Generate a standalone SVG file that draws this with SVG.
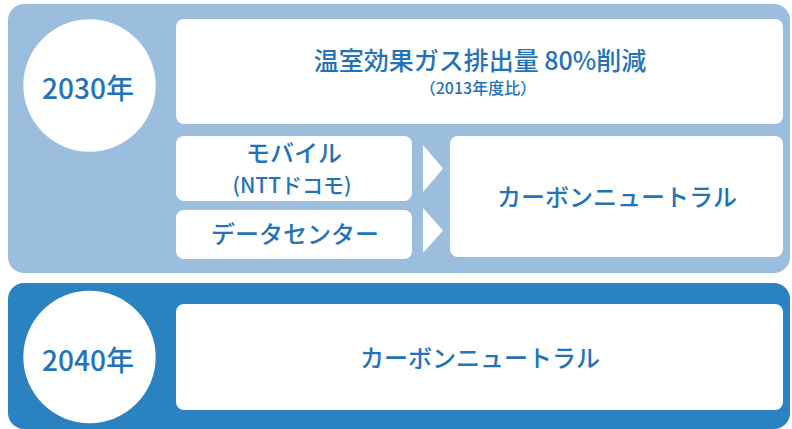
<svg xmlns="http://www.w3.org/2000/svg" width="792" height="429" viewBox="0 0 792 429">
<style>
.t{font-family:"Noto Sans CJK JP","Noto Sans",sans-serif;fill:#2473B6;font-weight:500;text-anchor:middle}
.box{fill:#ffffff}
</style>
<rect x="0" y="0" width="792" height="429" fill="#ffffff"/>
<g id="panel2030">
<rect x="8" y="4" width="782" height="269" rx="16" fill="#9BBEDF"/>
</g>
<g id="panel2040">
<rect x="8" y="283" width="782" height="146" rx="16" fill="#2A82C0"/>
</g>
<g id="year2030">
<circle cx="89.5" cy="85.5" r="66.2" class="box"/>
<text class="t" x="88" y="99" font-size="28">2030年</text>
</g>
<g id="target2030">
<rect x="176" y="19" width="607" height="105" rx="8" class="box"/>
<text class="t" x="480" y="70" font-size="25">温室効果ガス排出量 80%削減</text>
<text class="t" x="478" y="93.5" font-size="16">（2013年度比）</text>
</g>
<g id="mobile">
<rect x="176" y="136" width="236" height="65" rx="8" class="box"/>
<text class="t" x="294" y="162" font-size="24">モバイル</text>
<text class="t" x="292" y="193" font-size="21">(NTTドコモ)</text>
</g>
<g id="datacenter">
<rect x="176" y="210" width="236" height="49" rx="8" class="box"/>
<text class="t" x="295" y="243" font-size="24">データセンター</text>
</g>
<g id="neutral2030">
<rect x="450" y="136" width="333" height="121" rx="8" class="box"/>
<text class="t" x="617" y="206" font-size="24">カーボンニュートラル</text>
</g>
<g id="connectors">
<polygon points="423,145 443,168.5 423,192" fill="#ffffff"/>
<polygon points="423,208 443,230.5 423,253" fill="#ffffff"/>
</g>
<g id="year2040">
<circle cx="89.5" cy="357" r="66.2" class="box"/>
<text class="t" x="88" y="371" font-size="28">2040年</text>
</g>
<g id="neutral2040">
<rect x="176" y="304" width="607" height="106" rx="8" class="box"/>
<text class="t" x="480" y="367" font-size="24">カーボンニュートラル</text>
</g>
</svg>
